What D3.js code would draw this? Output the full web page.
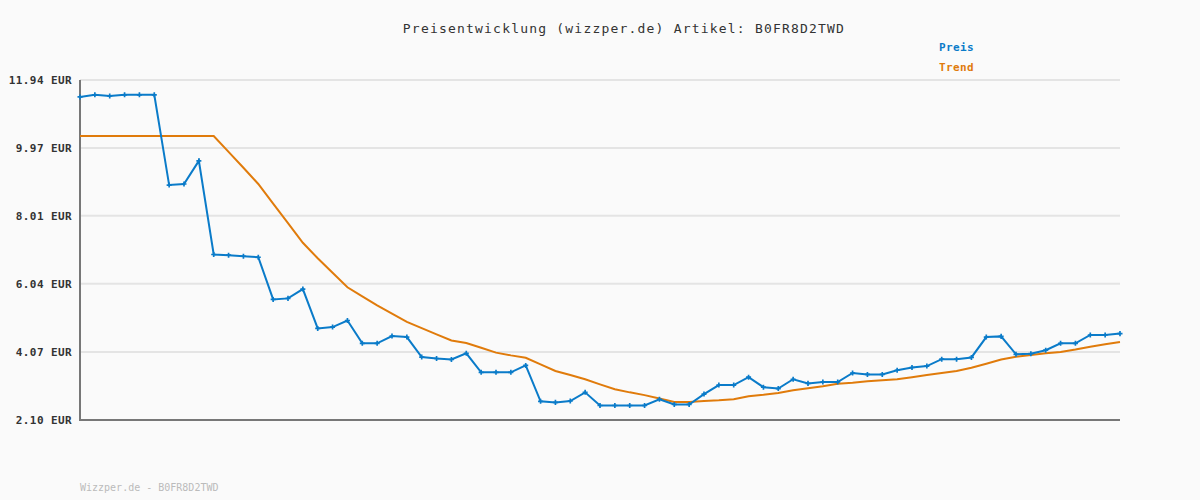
<!DOCTYPE html>
<html>
<head>
<meta charset="utf-8">
<script src="https://cdn.jsdelivr.net/npm/d3@7"></script>
<style>
  html, body { margin: 0; padding: 0; background: #fafafa; }
  svg { display: block; }
</style>
</head>
<body>
<svg id="chart" width="1200" height="500"></svg>
<script>
const titleText = "Preisentwicklung (wizzper.de) Artikel: B0FR8D2TWD";
const footerText = "Wizzper.de - B0FR8D2TWD";
const seriesNames = ["Preis", "Trend"];
const yTicks = [2.10, 4.07, 6.04, 8.01, 9.97, 11.94];
const priceValues = [
  11.45, 11.51, 11.48, 11.51, 11.51, 11.51, 8.90, 8.93, 9.60, 6.89,
  6.87, 6.84, 6.81, 5.59, 5.62, 5.89, 4.75, 4.79, 4.98, 4.32,
  4.32, 4.53, 4.50, 3.92, 3.88, 3.85, 4.03, 3.48, 3.48, 3.48,
  3.68, 2.64, 2.61, 2.65, 2.90, 2.52, 2.52, 2.52, 2.52, 2.70,
  2.55, 2.55, 2.85, 3.11, 3.11, 3.34, 3.05, 3.01, 3.28, 3.16,
  3.20, 3.20, 3.46, 3.42, 3.42, 3.54, 3.62, 3.66, 3.86, 3.86,
  3.91, 4.50, 4.52, 4.00, 4.02, 4.12, 4.32, 4.32, 4.56, 4.56,
  4.60
];
const trendValues = [
  10.32, 10.32, 10.32, 10.32, 10.32, 10.32, 10.32, 10.32, 10.32, 10.32,
  9.86, 9.40, 8.93, 8.36, 7.80, 7.23, 6.78, 6.36, 5.94, 5.68,
  5.42, 5.18, 4.94, 4.76, 4.58, 4.40, 4.33, 4.19, 4.05, 3.97,
  3.90, 3.71, 3.52, 3.40, 3.28, 3.13, 2.99, 2.90, 2.82, 2.72,
  2.62, 2.62, 2.65, 2.67, 2.70, 2.79, 2.83, 2.88, 2.96, 3.02,
  3.08, 3.15, 3.18, 3.22, 3.25, 3.28, 3.34, 3.40, 3.46, 3.52,
  3.61, 3.73, 3.85, 3.93, 3.98, 4.03, 4.07, 4.14, 4.22, 4.29,
  4.36
];

const svg = d3.select("#chart");
const plotLeft = 80, plotRight = 1120, plotTop = 80, plotBottom = 420;
const blue = "#0a7bc9", orange = "#e07b0b";
const mono = "'DejaVu Sans Mono', 'Liberation Mono', monospace";

svg.append("rect").attr("width", 1200).attr("height", 500).attr("fill", "#fafafa");

const x = d3.scaleLinear().domain([0, priceValues.length - 1]).range([plotLeft, plotRight]);
const y = d3.scaleLinear().domain([2.10, 11.94]).range([plotBottom, plotTop]);

// grid lines
svg.append("g").selectAll("line").data(yTicks.slice(1)).join("line")
  .attr("x1", plotLeft).attr("x2", plotRight)
  .attr("y1", d => y(d)).attr("y2", d => y(d))
  .attr("stroke", "#e4e4e4").attr("stroke-width", 2);

// y axis with labels
const yAxis = d3.axisLeft(y).tickValues(yTicks).tickSize(0).tickPadding(8)
  .tickFormat(d => d.toFixed(2) + " EUR");
const gy = svg.append("g").attr("transform", `translate(${plotLeft},0)`).call(yAxis);
gy.select(".domain").remove();
gy.selectAll("text")
  .attr("font-family", mono).attr("font-size", 11).attr("font-weight", "bold")
  .attr("letter-spacing", "0.4px").attr("fill", "#333");

// axis lines
svg.append("line").attr("x1", plotLeft).attr("x2", plotLeft).attr("y1", plotTop).attr("y2", plotBottom)
  .attr("stroke", "#777").attr("stroke-width", 2);
svg.append("line").attr("x1", plotLeft - 1).attr("x2", plotRight).attr("y1", plotBottom).attr("y2", plotBottom)
  .attr("stroke", "#777").attr("stroke-width", 2);

// trend line
svg.append("path").datum(trendValues)
  .attr("d", d3.line().x((d, i) => x(i)).y(d => y(d)))
  .attr("fill", "none").attr("stroke", orange).attr("stroke-width", 2);

// price line
svg.append("path").datum(priceValues)
  .attr("d", d3.line().x((d, i) => x(i)).y(d => y(d)))
  .attr("fill", "none").attr("stroke", blue).attr("stroke-width", 2);

// markers
svg.append("g").selectAll("path").data(priceValues).join("path")
  .attr("transform", (d, i) => `translate(${x(i)},${y(d)})`)
  .attr("d", d3.symbol(d3.symbolCross, 14))
  .attr("fill", blue);

// title
svg.append("text").attr("x", 624).attr("y", 33).attr("text-anchor", "middle")
  .attr("font-family", mono).attr("font-size", 13).attr("letter-spacing", "1.2px")
  .attr("fill", "#333").text(titleText);

// legend
svg.append("g").selectAll("text").data(seriesNames).join("text")
  .attr("x", 939).attr("y", (d, i) => 51 + i * 20)
  .attr("font-family", mono).attr("font-size", 11).attr("font-weight", "bold")
  .attr("letter-spacing", "0.4px")
  .attr("fill", (d, i) => i === 0 ? blue : orange).text(d => d);

// footer
svg.append("text").attr("x", 80).attr("y", 491)
  .attr("font-family", mono).attr("font-size", 10)
  .attr("fill", "#bbbbbb").text(footerText);
</script>
</body>
</html>
